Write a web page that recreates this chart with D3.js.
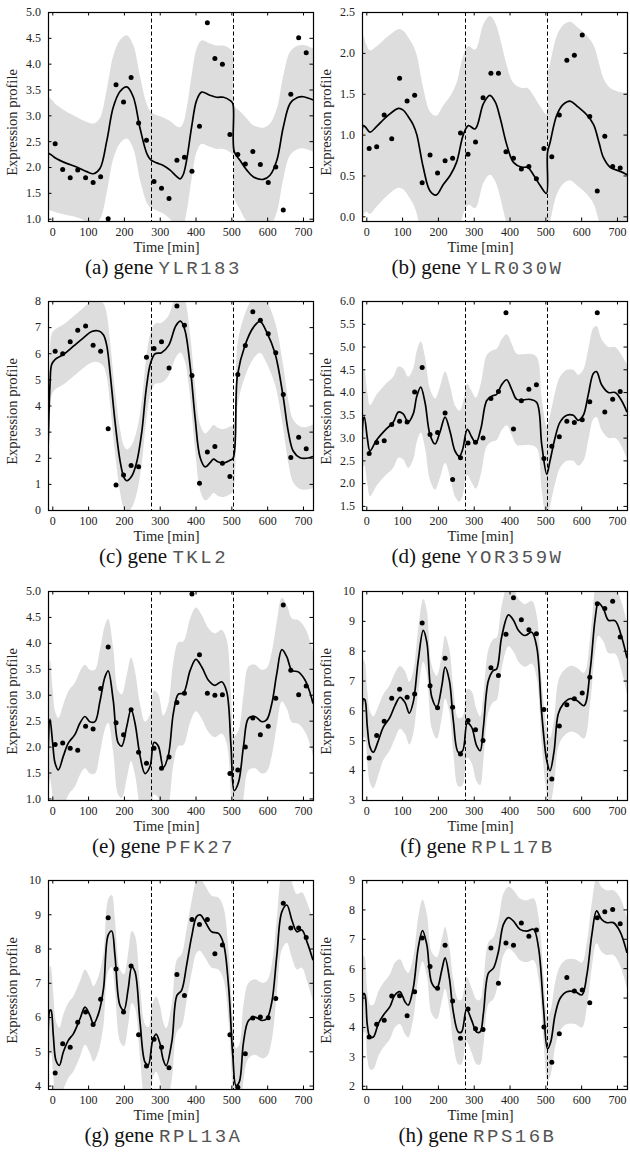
<!DOCTYPE html>
<html>
<head>
<meta charset="utf-8">
<script src="https://cdn.jsdelivr.net/npm/d3@7"></script>
<style>
  body { margin: 0; background: #fff; }
  text { font-family: "Liberation Serif", "DejaVu Serif", serif; }
</style>
</head>
<body>
<div id="chart"></div>
<script>
// sampling times (min) of the expression measurements
const times = [8, 29, 50, 71, 93, 114, 135, 156, 178, 199, 220, 241, 263, 284, 305, 326, 348,
               369, 390, 411, 433, 454, 475, 496, 518, 539, 560, 581, 603, 624, 645, 666, 688, 709]
// dashed lines between the three cycles
const cycleBreaks = [275, 505]
const xTicks = [0, 100, 200, 300, 400, 500, 600, 700]
const xDomain = [-12, 728]

const genes = ["YLR183", "YLR030W", "TKL2", "YOR359W", "PFK27", "RPL17B", "RPL13A", "RPS16B"]
const tags = ["(a)", "(b)", "(c)", "(d)", "(e)", "(f)", "(g)", "(h)"]
const yDomains = [[0.955, 5.0], [-0.057, 2.5], [0, 8], [1.41, 6.0], [0.97, 5.0], [3, 10], [3.9, 10], [1.89, 9]]
const yTicks = [
  [1.0, 1.5, 2.0, 2.5, 3.0, 3.5, 4.0, 4.5, 5.0],
  [0.0, 0.5, 1.0, 1.5, 2.0, 2.5],
  [0, 1, 2, 3, 4, 5, 6, 7, 8],
  [1.5, 2.0, 2.5, 3.0, 3.5, 4.0, 4.5, 5.0, 5.5, 6.0],
  [1.0, 1.5, 2.0, 2.5, 3.0, 3.5, 4.0, 4.5, 5.0],
  [3, 4, 5, 6, 7, 8, 9, 10],
  [4, 5, 6, 7, 8, 9, 10],
  [2, 3, 4, 5, 6, 7, 8, 9]
]
const tickFormats = [".1f", ".1f", "d", ".1f", ".1f", "d", "d", "d"]

// measured expression values
const obs_YLR183 = [2.45, 1.95, 1.79, 1.94, 1.79, 1.70, 1.81, 1.0, 3.59, 3.26, 3.73, 2.85, 2.52, 1.72, 1.59, 1.39, 2.13,
                    2.19, 1.92, 2.79, 4.79, 4.10, 3.99, 2.63, 2.24, 2.06, 2.30, 2.05, 1.70, 2.0, 1.17, 3.41, 4.50, 4.21]
const obs_YLR030W = [0.83, 0.85, 1.24, 0.95, 1.69, 1.41, 1.48, 0.41, 0.75, 0.53, 0.68, 0.71, 1.02, 0.76, 0.91, 1.45, 1.75,
                     1.75, 0.79, 0.71, 0.58, 0.61, 0.46, 0.83, 0.73, 1.24, 1.91, 1.97, 2.22, 1.22, 0.31, 0.98, 0.61, 0.59]
const obs_TKL2 = [6.08, 5.98, 6.44, 6.88, 7.04, 6.31, 6.08, 3.11, 0.96, 1.34, 1.70, 1.66, 5.85, 6.18, 6.44, 5.44, 7.81,
                  7.07, 5.15, 1.02, 2.22, 2.43, 1.79, 1.28, 5.19, 6.30, 7.59, 7.26, 6.75, 6.02, 4.42, 2.01, 2.78, 2.34]
const obs_YOR359W = [2.65, 2.89, 2.93, 3.29, 3.36, 3.34, 4.0, 4.54, 3.07, 3.11, 3.54, 2.08, 2.56, 2.88, 2.90, 2.99, 3.86,
                     4.01, 5.74, 3.19, 3.81, 4.06, 4.16, 2.54, 2.81, 3.02, 3.36, 3.33, 3.39, 3.79, 5.74, 3.56, 3.84, 4.01]
const obs_PFK27 = [2.04, 2.07, 1.97, 1.93, 2.39, 2.34, 3.12, 3.92, 2.46, 2.23, 2.71, 1.89, 1.68, 1.97, 1.58, 1.80, 2.85,
                   3.03, 4.94, 3.77, 3.03, 2.99, 3.0, 1.48, 1.55, 1.99, 2.55, 2.23, 2.39, 2.93, 4.73, 3.47, 3.0, 3.17]
const obs_RPL17B = [4.41, 5.16, 5.64, 6.41, 6.71, 6.44, 6.55, 8.93, 6.83, 6.09, 7.75, 6.11, 4.54, 5.66, 5.35, 4.99, 7.43,
                    7.17, 8.55, 9.77, 9.04, 8.70, 8.57, 6.03, 3.70, 5.48, 6.19, 6.39, 6.58, 7.11, 9.57, 9.41, 9.66, 8.46]
const obs_RPL13A = [4.37, 5.22, 5.12, 5.85, 6.15, 5.78, 6.52, 8.90, 7.40, 6.15, 7.49, 5.48, 4.57, 5.35, 5.12, 4.52, 7.24,
                    6.63, 8.85, 8.70, 8.85, 7.85, 8.10, 5.48, 3.95, 4.93, 5.97, 6.0, 5.98, 6.54, 9.32, 8.60, 8.60, 8.32]
const obs_RPS16B = [3.66, 4.09, 4.23, 5.05, 5.06, 4.38, 5.20, 7.03, 6.06, 5.32, 6.78, 4.88, 3.62, 4.61, 3.94, 3.91, 6.69,
                    5.49, 6.86, 6.78, 7.54, 7.09, 7.30, 4.0, 2.80, 3.77, 5.68, 5.22, 5.26, 4.82, 7.72, 7.92, 8.0, 7.51]

// fitted profile: [time, mean, half width of the grey band]
const fit_YLR183 = [[-12, 2.27, 1.1], [0, 2.22, 1.07], [7.5, 2.18, 1.05], [40, 2.07, 1.0], [68, 2.0, 0.97], [96, 1.91, 0.96],
  [115, 1.87, 0.97], [133, 1.97, 0.98], [152, 2.5, 1.0], [170, 3.15, 1.0], [189, 3.46, 1.0], [208, 3.55, 1.0],
  [226, 3.36, 1.0], [245, 2.75, 1.0], [264, 2.26, 0.95], [275, 2.14, 0.93], [292, 2.08, 0.92], [310, 2.03, 0.93],
  [329, 1.94, 0.95], [347, 1.82, 0.97], [357, 1.77, 1.0], [366, 1.86, 1.0], [375, 2.13, 1.0], [389, 2.77, 1.0],
  [403, 3.29, 1.0], [417, 3.45, 1.0], [440, 3.39, 1.0], [459, 3.35, 1.0], [478, 3.35, 1.0], [496, 3.29, 1.0],
  [504, 3.23, 1.0], [508, 2.3, 0.9], [524, 2.13, 0.95], [543, 1.94, 1.0], [561, 1.81, 1.0], [589, 1.76, 1.0],
  [608, 1.84, 1.0], [627, 2.13, 1.0], [645, 2.77, 1.0], [664, 3.23, 1.0], [683, 3.34, 1.0], [701, 3.36, 1.0],
  [720, 3.32, 1.0], [728, 3.3, 1.0]]
const fit_YLR030W = [[-12, 0.79, 1.25], [-8, 1.11, 1.1], [0, 1.08, 1.02], [10, 1.03, 1.0], [29, 1.1, 0.98], [57, 1.22, 0.97],
  [90, 1.32, 0.97], [103, 1.3, 0.97], [120, 1.2, 0.97], [131, 1.12, 0.97], [141, 1.0, 0.97], [159, 0.6, 0.97],
  [178, 0.31, 0.97], [195, 0.26, 0.97], [215, 0.39, 0.97], [234, 0.5, 0.97], [252, 0.66, 0.97], [271, 1.0, 0.97],
  [285, 1.11, 0.97], [304, 1.07, 0.97], [327, 1.38, 0.97], [345, 1.48, 0.97], [360, 1.4, 0.97], [374, 1.2, 0.97],
  [392, 0.88, 0.97], [411, 0.66, 0.97], [434, 0.6, 0.97], [450, 0.6, 0.97], [468, 0.5, 0.97], [485, 0.38, 0.97],
  [503, 0.28, 0.97], [506, 0.78, 0.97], [513, 0.9, 0.97], [532, 1.24, 0.97], [550, 1.37, 0.97], [569, 1.41, 0.97],
  [588, 1.35, 0.97], [616, 1.24, 0.97], [635, 1.12, 0.97], [650, 0.9, 0.97], [662, 0.72, 0.97], [681, 0.6, 0.97],
  [709, 0.55, 0.97], [728, 0.51, 1.0]]
const fit_TKL2 = [[-12, 2.2, 1.2], [-6.4, 4.8, 1.2], [-1.8, 5.57, 1.17], [7.5, 5.76, 1.15], [31, 5.95, 1.15], [59, 6.27, 1.15],
  [87, 6.59, 1.15], [110, 6.83, 1.18], [130, 6.85, 1.2], [143, 6.7, 1.2], [152, 6.3, 1.2], [161, 5.3, 1.2],
  [175, 3.4, 1.2], [189, 1.9, 1.2], [200, 1.25, 1.2], [208, 1.12, 1.2], [222, 1.3, 1.2], [236, 1.85, 1.2],
  [250, 3.0, 1.2], [262, 4.6, 1.2], [274, 5.6, 1.17], [287, 5.98, 1.15], [305, 6.02, 1.15], [325, 6.3, 1.15],
  [345, 7.05, 1.2], [358, 7.23, 1.2], [370, 6.9, 1.2], [385, 5.5, 1.2], [399, 3.5, 1.22], [413, 2.0, 1.25],
  [427, 1.65, 1.28], [440, 1.8, 1.3], [450, 1.95, 1.3], [462, 1.85, 1.3], [478, 1.8, 1.3], [496, 1.9, 1.3],
  [505, 1.98, 1.25], [517, 5.15, 1.2], [538, 6.3, 1.2], [562, 7.0, 1.2], [580, 7.22, 1.2], [599, 6.8, 1.2],
  [622, 6.0, 1.2], [644, 4.4, 1.2], [659, 3.0, 1.2], [673, 2.25, 1.2], [692, 2.0, 1.2], [710, 1.98, 1.2],
  [728, 2.05, 1.22]]
const fit_YOR359W = [[-12, 2.24, 1.1], [-8.3, 3.41, 1.05], [-5.5, 3.45, 1.05], [2.9, 2.99, 1.0], [10.3, 2.71, 1.0],
  [29, 2.95, 1.0], [52, 3.16, 1.0], [75.5, 3.34, 1.0], [89.5, 3.56, 1.0], [103, 3.52, 1.0], [117, 3.34, 1.0],
  [131, 3.52, 1.0], [141, 3.91, 1.0], [152, 4.11, 1.0], [164, 3.77, 1.0], [178, 3.06, 1.0], [192, 2.86, 1.0],
  [206, 3.13, 1.0], [220, 3.45, 1.0], [234, 3.13, 1.0], [248, 2.7, 1.0], [260, 2.59, 1.0], [269, 2.74, 1.0],
  [282, 3.18, 1.0], [294, 3.02, 1.0], [306, 2.88, 1.0], [320, 3.2, 1.0], [336, 3.81, 1.0], [350, 3.91, 1.0],
  [364, 3.95, 1.0], [378, 4.16, 1.0], [392, 4.27, 1.0], [406, 4.06, 1.0], [420, 3.84, 1.0], [439, 3.83, 1.0],
  [457, 3.84, 1.0], [476, 3.77, 1.0], [490, 2.84, 1.0], [504, 2.2, 1.05], [513, 2.49, 1.0], [527, 2.99, 1.0],
  [541, 3.34, 1.0], [560, 3.49, 1.0], [578, 3.49, 1.0], [592, 3.38, 1.0], [606, 3.49, 1.0], [620, 3.95, 1.0],
  [634, 4.41, 1.0], [643, 4.45, 1.0], [657, 4.16, 1.0], [676, 3.99, 1.0], [695, 3.99, 1.0], [713, 3.81, 1.0],
  [728, 3.56, 1.05]]
const fit_PFK27 = [[-12, 1.82, 1.3], [-6.4, 2.53, 1.15], [1, 2.07, 1.05], [7.5, 1.69, 1.0], [17, 1.55, 1.0], [31, 1.82, 1.0],
  [45, 2.07, 1.0], [63, 2.23, 1.0], [77, 2.45, 1.0], [91, 2.58, 1.0], [105, 2.48, 1.0], [119, 2.48, 1.0],
  [133, 2.87, 1.0], [147, 3.34, 1.0], [156, 3.46, 1.0], [170, 2.9, 1.0], [184, 2.07, 1.0], [194, 2.01, 1.0],
  [208, 2.39, 1.0], [220, 2.72, 1.0], [231, 2.45, 1.0], [245, 1.82, 1.0], [259, 1.48, 1.0], [273, 1.62, 1.0],
  [284, 2.08, 1.0], [296, 2.01, 1.0], [310, 1.6, 1.0], [324, 1.83, 1.0], [338, 2.64, 1.0], [352, 3.01, 1.0],
  [366, 3.03, 1.0], [385, 3.47, 1.0], [401, 3.68, 1.0], [417, 3.54, 1.0], [436, 3.28, 1.0], [454, 3.18, 1.0],
  [473, 3.25, 1.0], [487, 3.06, 1.0], [499, 2.01, 1.0], [508, 1.15, 1.05], [520, 1.31, 1.0], [534, 2.01, 1.0],
  [548, 2.55, 1.0], [566, 2.58, 1.0], [585, 2.48, 1.0], [599, 2.52, 1.0], [613, 2.83, 1.0], [627, 3.41, 1.0],
  [641, 3.87, 1.0], [655, 3.73, 1.0], [669, 3.47, 1.0], [687, 3.44, 1.0], [706, 3.28, 1.0], [720, 3.03, 1.0],
  [728, 2.83, 1.0]]
const fit_RPL17B = [[-12, 5.32, 1.4], [-7.4, 6.39, 1.3], [-3.6, 6.35, 1.25], [2.9, 5.44, 1.2], [10.3, 4.77, 1.2],
  [19.6, 4.6, 1.2], [33.6, 4.99, 1.15], [47.5, 5.44, 1.1], [66, 5.77, 1.1], [80, 6.16, 1.1], [94, 6.44, 1.05],
  [108, 6.27, 1.05], [120, 5.91, 1.05], [131, 6.27, 1.05], [145, 7.67, 1.05], [159, 8.68, 1.05], [169, 8.29, 1.05],
  [183, 6.44, 1.05], [197, 6.11, 1.05], [211, 6.83, 1.05], [220, 7.45, 1.05], [232, 7.0, 1.05], [243, 5.66, 1.1],
  [257, 4.6, 1.15], [269, 4.65, 1.15], [282, 5.57, 1.15], [294, 5.44, 1.2], [308, 4.82, 1.2], [318, 4.65, 1.15],
  [327, 5.44, 1.1], [341, 7.0, 1.05], [355, 7.34, 1.05], [364, 7.39, 1.05], [378, 8.46, 1.05], [397, 9.2, 1.05],
  [411, 9.02, 1.05], [425, 8.68, 1.05], [443, 8.51, 1.05], [462, 8.62, 1.05], [476, 8.12, 1.05], [490, 5.88, 1.05],
  [504, 4.32, 1.1], [513, 3.98, 1.1], [524, 4.6, 1.1], [536, 5.88, 1.1], [550, 6.22, 1.1], [569, 6.39, 1.1],
  [588, 6.33, 1.1], [608, 6.16, 1.1], [625, 7.34, 1.1], [639, 9.07, 1.1], [648, 9.6, 1.1], [662, 9.41, 1.1],
  [676, 9.02, 1.1], [695, 9.0, 1.1], [713, 8.46, 1.15], [728, 7.75, 1.2]]
const fit_RPL13A = [[-12, 4.68, 1.4], [-6.4, 6.2, 1.3], [-3.6, 6.2, 1.25], [2.9, 5.46, 1.2], [10.3, 4.73, 1.15],
  [19.6, 4.59, 1.1], [30.8, 4.98, 1.1], [44.8, 5.32, 1.1], [58.8, 5.51, 1.1], [77.4, 5.95, 1.1], [91.3, 6.29, 1.1],
  [105, 6.05, 1.1], [115, 5.8, 1.1], [129, 6.1, 1.1], [143, 6.83, 1.05], [156, 8.39, 1.05], [166, 8.51, 1.05],
  [175, 7.8, 1.05], [189, 6.34, 1.05], [200, 6.2, 1.05], [212, 6.83, 1.05], [222, 7.46, 1.05], [231, 7.32, 1.05],
  [245, 5.85, 1.05], [259, 4.68, 1.1], [268, 4.6, 1.1], [280, 5.3, 1.1], [290, 5.5, 1.1], [300, 5.25, 1.1],
  [310, 4.75, 1.1], [318, 4.58, 1.1], [334, 5.3, 1.1], [348, 6.63, 1.05], [361, 6.78, 1.05], [375, 7.51, 1.05],
  [389, 8.34, 1.05], [403, 8.93, 1.05], [413, 8.98, 1.05], [427, 8.78, 1.05], [445, 8.49, 1.05], [464, 8.44, 1.05],
  [478, 8.15, 1.05], [492, 6.93, 1.05], [504, 4.88, 1.1], [513, 4.0, 1.1], [522, 4.1, 1.1], [534, 5.27, 1.1],
  [548, 5.9, 1.1], [566, 6.0, 1.1], [585, 5.9, 1.1], [599, 5.95, 1.1], [613, 6.44, 1.1], [627, 7.8, 1.1],
  [641, 9.07, 1.1], [655, 9.27, 1.1], [669, 8.83, 1.1], [683, 8.49, 1.1], [697, 8.54, 1.1], [711, 8.2, 1.15],
  [728, 7.66, 1.2]]
const fit_RPS16B = [[-12, 4.06, 1.35], [-7.4, 5.14, 1.3], [-3.6, 5.09, 1.25], [2.9, 4.06, 1.15], [10.3, 3.66, 1.1],
  [19.6, 3.66, 1.1], [33.6, 4.11, 1.1], [47.5, 4.4, 1.1], [66, 4.69, 1.1], [80, 5.09, 1.1], [94, 5.2, 1.1],
  [108, 4.86, 1.1], [117, 4.74, 1.1], [131, 5.32, 1.05], [145, 6.69, 1.05], [157, 7.28, 1.05], [169, 6.8, 1.05],
  [183, 5.49, 1.05], [197, 5.32, 1.05], [211, 5.95, 1.05], [220, 6.35, 1.05], [232, 5.66, 1.05], [243, 4.51, 1.1],
  [257, 3.83, 1.1], [266, 3.83, 1.1], [280, 4.61, 1.1], [294, 4.23, 1.1], [308, 3.83, 1.1], [318, 3.83, 1.1],
  [327, 4.46, 1.1], [341, 5.83, 1.05], [355, 6.0, 1.05], [369, 6.57, 1.05], [383, 7.49, 1.05], [397, 7.72, 1.05],
  [411, 7.6, 1.05], [429, 7.32, 1.05], [448, 7.26, 1.05], [467, 7.32, 1.05], [481, 6.69, 1.05], [495, 4.63, 1.1],
  [506, 3.26, 1.1], [515, 3.49, 1.1], [527, 4.4, 1.1], [541, 4.97, 1.1], [560, 5.2, 1.1], [583, 5.2, 1.1],
  [602, 5.09, 1.1], [616, 5.78, 1.1], [630, 7.15, 1.1], [643, 7.95, 1.1], [657, 7.66, 1.1], [671, 7.55, 1.1],
  [690, 7.55, 1.1], [708, 7.26, 1.15], [728, 6.52, 1.2]]

const observed = [obs_YLR183, obs_YLR030W, obs_TKL2, obs_YOR359W, obs_PFK27, obs_RPL17B, obs_RPL13A, obs_RPS16B]
const fitted = [fit_YLR183, fit_YLR030W, fit_TKL2, fit_YOR359W, fit_PFK27, fit_RPL17B, fit_RPL13A, fit_RPS16B]

// layout
const colLeft = [48, 362]
const rowTop = [12, 301, 591, 880]
const plotW = 265, plotH = 209

const svg = d3.select("#chart")
  .append("svg")
  .attr("width", 630)
  .attr("height", 1152)

const curve = d3.curveCatmullRom.alpha(0.5)

genes.forEach((gene, k) => {
  const left = colLeft[k % 2]
  const top = rowTop[Math.floor(k / 2)]
  const bottom = top + plotH

  const x = d3.scaleLinear().domain(xDomain).range([left, left + plotW])
  const y = d3.scaleLinear().domain(yDomains[k]).range([bottom, top])

  const g = svg.append("g")

  g.append("clipPath")
    .attr("id", "clip" + k)
    .append("rect")
    .attr("x", left).attr("y", top)
    .attr("width", plotW).attr("height", plotH)

  const body = g.append("g").attr("clip-path", `url(#clip${k})`)

  // grey band
  body.append("path")
    .datum(fitted[k])
    .attr("fill", "#dddddd")
    .attr("d", d3.area()
      .x(d => x(d[0]))
      .y0(d => y(d[1] - d[2]))
      .y1(d => y(d[1] + d[2]))
      .curve(curve))

  // cycle boundaries
  body.selectAll(".brk")
    .data(cycleBreaks)
    .enter().append("line")
    .attr("x1", d => Math.round(x(d)) + 0.5)
    .attr("x2", d => Math.round(x(d)) + 0.5)
    .attr("y1", top).attr("y2", bottom)
    .attr("stroke", "#000")
    .attr("stroke-width", 1)
    .attr("stroke-dasharray", "4,2.5")

  // mean profile
  body.append("path")
    .datum(fitted[k])
    .attr("fill", "none")
    .attr("stroke", "#000")
    .attr("stroke-width", 1.7)
    .attr("d", d3.line()
      .x(d => x(d[0]))
      .y(d => y(d[1]))
      .curve(curve))

  // measurements
  g.selectAll(".pt")
    .data(observed[k])
    .enter().append("circle")
    .attr("cx", (d, i) => x(times[i]))
    .attr("cy", d => y(d))
    .attr("r", 2.5)
    .attr("fill", "#000")

  const fmt = d3.format(tickFormats[k])
  const styleAxis = sel => {
    sel.select(".domain").remove()
    sel.selectAll("line").attr("stroke", "#000")
    sel.selectAll("text")
      .attr("fill", "#222")
      .style("font-family", '"Liberation Serif", serif')
      .style("font-size", "12px")
  }

  g.append("g")
    .attr("transform", `translate(0,${bottom})`)
    .call(d3.axisBottom(x).tickValues(xTicks).tickSizeInner(-3.5).tickSizeOuter(0).tickPadding(6))
    .call(styleAxis)
  g.append("g")
    .attr("transform", `translate(0,${top})`)
    .call(d3.axisTop(x).tickValues(xTicks).tickSizeInner(-3.5).tickSizeOuter(0).tickFormat(""))
    .call(styleAxis)
  g.append("g")
    .attr("transform", `translate(${left},0)`)
    .call(d3.axisLeft(y).tickValues(yTicks[k]).tickFormat(fmt).tickSizeInner(-3.5).tickSizeOuter(0).tickPadding(7))
    .call(styleAxis)
  g.append("g")
    .attr("transform", `translate(${left + plotW},0)`)
    .call(d3.axisRight(y).tickValues(yTicks[k]).tickSizeInner(-3.5).tickSizeOuter(0).tickFormat(""))
    .call(styleAxis)

  // frame
  g.append("rect")
    .attr("x", left + 0.5).attr("y", top + 0.5)
    .attr("width", plotW).attr("height", plotH)
    .attr("fill", "none")
    .attr("stroke", "#000")
    .attr("stroke-width", 1.2)

  // axis titles
  g.append("text")
    .attr("x", left + plotW / 2 - 14)
    .attr("y", bottom + 31)
    .attr("text-anchor", "middle")
    .style("font-size", "14.5px")
    .attr("fill", "#222")
    .text("Time [min]")

  g.append("text")
    .attr("transform", `translate(${left - 31},${top + plotH / 2 + 6}) rotate(-90)`)
    .attr("text-anchor", "middle")
    .style("font-size", "14.5px")
    .attr("fill", "#222")
    .text("Expression profile")

  // caption
  const cap = g.append("text")
    .attr("x", left + plotW / 2 - 17)
    .attr("y", bottom + 53)
    .attr("text-anchor", "middle")
    .style("font-size", "21px")
    .attr("fill", "#111")
  cap.append("tspan").text(tags[k] + " gene ")
  cap.append("tspan")
    .style("font-family", '"Liberation Mono", monospace')
    .style("font-size", "19px")
    .style("letter-spacing", "2.5px")
    .attr("fill", "#555")
    .text(gene)
})
</script>
</body>
</html>
